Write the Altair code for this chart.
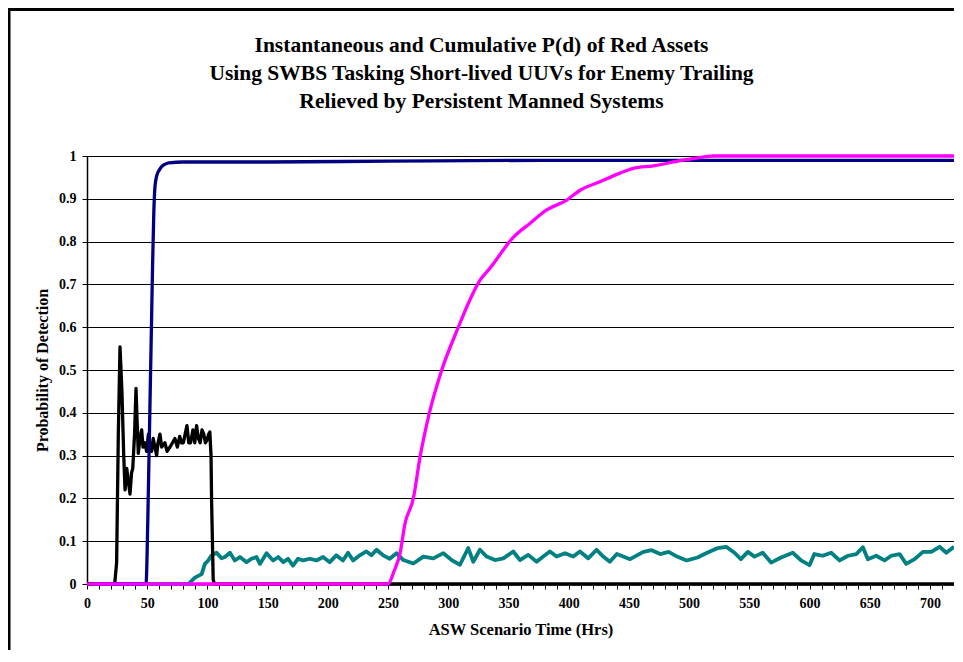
import altair as alt
import pandas as pd

# ---- data ----
black_t = [0, 23, 24.6, 26, 27.4, 29, 30.5, 31.6, 33, 34.3, 35.7, 37, 38, 39.5, 40.7, 41.6, 42.6, 44, 45.4,
           46.5, 48, 49.5, 51, 52.5, 53.7, 55, 56.5, 57.8, 59, 60.6, 62, 64.7, 66.5, 68.9, 71, 73, 75, 77,
           78.5, 80, 81.5, 83, 84.5, 86, 88, 89.5, 91, 92.5, 94, 95.5, 97, 98.3, 99.5, 101, 102, 103, 103.5,
           104.8, 106, 720]
black_v = [0, 0, 0.05, 0.35, 0.554, 0.45, 0.3, 0.22, 0.27, 0.24, 0.21, 0.26, 0.27, 0.35, 0.457, 0.38, 0.305,
           0.34, 0.36, 0.32, 0.33, 0.31, 0.35, 0.32, 0.31, 0.34, 0.32, 0.30, 0.33, 0.35, 0.32, 0.33, 0.31, 0.32,
           0.33, 0.34, 0.32, 0.345, 0.33, 0.33, 0.35, 0.37, 0.33, 0.33, 0.36, 0.33, 0.37, 0.34, 0.33, 0.36, 0.35,
           0.33, 0.335, 0.35, 0.355, 0.3, 0.19, 0.01, 0, 0]

navy_t = [0, 49, 50.5, 51.5, 52.5, 53.5, 54.5, 55.5, 56.5, 58, 60, 62, 65, 68, 80, 150, 250, 400, 720]
navy_v = [0, 0, 0.15, 0.3, 0.45, 0.6, 0.75, 0.87, 0.93, 0.955, 0.967, 0.975, 0.981, 0.984, 0.986, 0.986,
          0.988, 0.99, 0.99]

teal_t = [0, 84.2, 89.6, 95.2, 97.9, 100.7, 103.4, 107.6, 111.7, 114.5, 118.7, 122.8, 127, 132.5, 136.6,
          140.8, 143.6, 149.1, 154.6, 158.8, 163, 167, 171, 175.3, 179.4, 185, 190.5, 196, 201.6, 207, 212.6,
          216.8, 221, 226.5, 232, 236.2, 240.4, 245.9, 251.4, 257, 262.7, 271, 279.3, 287.6, 295.9, 302.8,
          309.7, 316.6, 320.8, 326.3, 331.9, 338.8, 345.7, 354, 359.5, 366.4, 373.4, 378.9, 384.4, 390, 396.9,
          403.8, 409.3, 416.2, 423.2, 428.7, 434.2, 440, 451, 462, 469, 476, 483, 490, 498, 507, 515, 523.9,
          530.8, 537.7, 543, 548.8, 554.3, 561.2, 568.1, 576.4, 586.1, 593, 600, 604, 611, 618, 625, 632, 639,
          644.3, 648.5, 655.4, 662.3, 667.9, 674.8, 680.3, 687.3, 694.2, 701.1, 708, 713.6, 720]
teal_v = [0, 0, 0.015, 0.023, 0.047, 0.055, 0.067, 0.073, 0.06, 0.063, 0.073, 0.055, 0.063, 0.051, 0.059,
          0.063, 0.047, 0.072, 0.055, 0.063, 0.051, 0.059, 0.043, 0.059, 0.055, 0.059, 0.055, 0.063, 0.051,
          0.067, 0.055, 0.073, 0.055, 0.067, 0.076, 0.067, 0.08, 0.067, 0.059, 0.072, 0.056, 0.048, 0.064,
          0.06, 0.072, 0.056, 0.045, 0.084, 0.052, 0.08, 0.064, 0.056, 0.06, 0.076, 0.056, 0.068, 0.052,
          0.064, 0.076, 0.064, 0.072, 0.064, 0.076, 0.06, 0.08, 0.064, 0.052, 0.07, 0.058, 0.075, 0.079,
          0.07, 0.075, 0.064, 0.055, 0.062, 0.073, 0.084, 0.087, 0.073, 0.058, 0.075, 0.064, 0.073, 0.05,
          0.062, 0.073, 0.055, 0.044, 0.07, 0.066, 0.073, 0.055, 0.066, 0.07, 0.086, 0.058, 0.066, 0.055,
          0.066, 0.07, 0.047, 0.058, 0.075, 0.075, 0.087, 0.073, 0.087]

magenta_t = [0, 250, 255, 260, 264, 271, 276.6, 283.5, 294.6, 308.4, 316.7, 326.4, 334.7, 354, 368, 381.8,
             398.4, 409.5, 426, 442.7, 453.7, 470.3, 492.5, 510, 520, 720]
magenta_v = [0, 0, 0.03, 0.072, 0.14, 0.2, 0.297, 0.39, 0.5, 0.6, 0.656, 0.71, 0.738, 0.81, 0.843, 0.874,
             0.897, 0.92, 0.94, 0.96, 0.971, 0.977, 0.989, 0.997, 1.0, 1.0]

x_ticks = list(range(0, 721, 10))
y_ticks = [round(i / 10, 1) for i in range(11)]

title_lines = ["Instantaneous and Cumulative P(d) of Red Assets",
               "Using SWBS Tasking Short-lived UUVs for Enemy Trailing",
               "Relieved by Persistent Manned Systems"]

FONT = "'Liberation Serif', 'Times New Roman', Times, serif"

x_scale = alt.Scale(domain=[0, 720], nice=False, zero=False)
y_scale = alt.Scale(domain=[0, 1], nice=False)

x_axis = alt.Axis(title="ASW Scenario Time (Hrs)", values=x_ticks,
                  labelExpr="datum.value % 50 == 0 ? datum.label : ''",
                  grid=False, labelFlush=False, labelOverlap=False,
                  labelFont=FONT, titleFont=FONT)
y_axis = alt.Axis(title="Probability of Detection", values=y_ticks, format="~g", grid=True,
                  labelFont=FONT, titleFont=FONT)


def series(t, v, color, width, interp="linear"):
    df = pd.DataFrame({"t": t, "v": v})
    return alt.Chart(df).mark_line(color=color, strokeWidth=width, strokeJoin="round",
                                   interpolate=interp).encode(
        x=alt.X("t:Q", scale=x_scale, axis=x_axis),
        y=alt.Y("v:Q", scale=y_scale, axis=y_axis),
    )


frame = alt.Chart(pd.DataFrame({"a": [0]})).mark_rect(
    filled=False, stroke="black", strokeWidth=3
).encode(x=alt.value(-78), x2=alt.value(920), y=alt.value(-146.5), y2=alt.value(540))

chart = alt.layer(
    frame,
    series(teal_t, teal_v, "#008080", 3.8),
    series(black_t, black_v, "#000000", 3.3),
    series(navy_t, navy_v, "#000080", 3.3, "monotone"),
    series(magenta_t, magenta_v, "#FF00FF", 3.3, "monotone"),
).properties(
    width=867, height=428,
    autosize=alt.AutoSizeParams(type="none"),
    padding={"left": 79, "top": 148, "right": 0, "bottom": 66},
    title=alt.TitleParams(text=title_lines, font=FONT, fontSize=21.5, fontWeight="bold",
                          lineHeight=28, anchor="middle", frame="group", dx=-39, offset=-104,
                          color="black"),
).configure(
    font=FONT
).configure_view(
    stroke="#888888", strokeWidth=1
).configure_axis(
    labelFont=FONT, labelFontWeight="bold", labelColor="black",
    titleFont=FONT, titleFontWeight="bold", titleColor="black",
    domainColor="black", tickColor="black", tickSize=5, gridColor="black", gridWidth=1,
    gridOpacity=1,
).configure_axisX(
    domainWidth=2, labelPadding=7, titlePadding=11, labelFontSize=14, titleFontSize=16.5,
).configure_axisY(
    domainWidth=1.5, labelPadding=6, titlePadding=8, labelFontSize=14, titleFontSize=16,
)

chart.save("out.html", embed_options={"renderer": "svg", "actions": False})
